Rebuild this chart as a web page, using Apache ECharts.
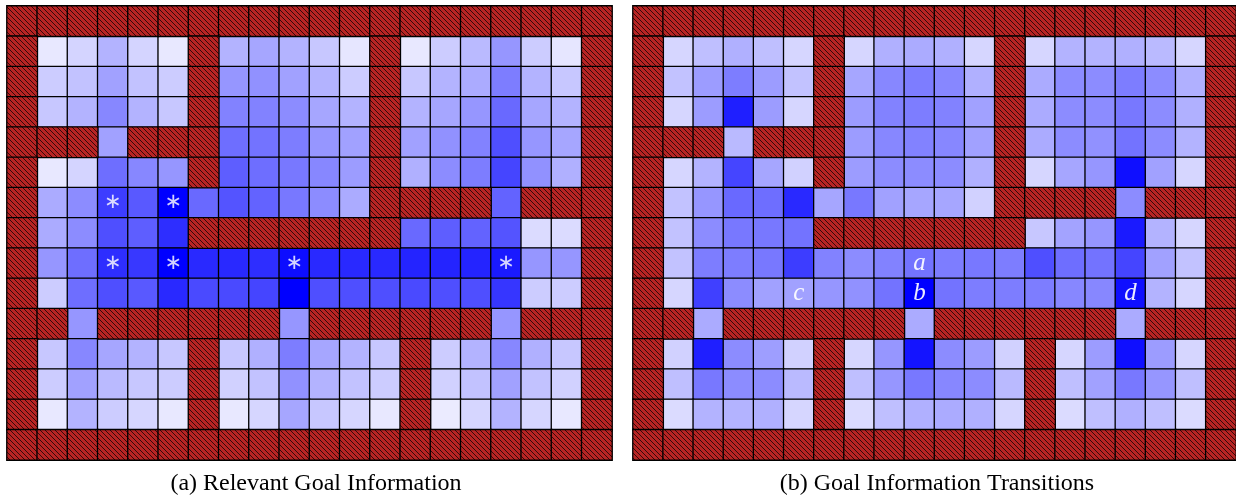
<!DOCTYPE html>
<html>
<head>
<meta charset="utf-8">
<script src="https://cdn.jsdelivr.net/npm/echarts@6/dist/echarts.min.js"></script>
<style>
  html, body { margin: 0; padding: 0; background: #ffffff; }
  #chart { width: 1236px; height: 498px; }
</style>
</head>
<body>
<div id="chart"></div>
<script>
// Grid-world maze: W marks a wall cell, numbers are cell intensities (0..1).
const W = null;

const columnLabels = ['0','1','2','3','4','5','6','7','8','9','10','11','12','13','14','15','16','17','18','19'];
const rowLabels = ['0','1','2','3','4','5','6','7','8','9','10','11','12','13','14'];

// (a) Relevant goal information
const relevantGoalInfo = [
  [W,W,W,W,W,W,W,W,W,W,W,W,W,W,W,W,W,W,W,W],
  [W,.09,.17,.30,.17,.09,W,.30,.35,.30,.22,.10,W,.09,.20,.27,.41,.20,.10,W],
  [W,.20,.24,.37,.24,.20,W,.41,.43,.37,.30,.20,W,.22,.30,.33,.51,.30,.22,W],
  [W,.22,.30,.47,.30,.22,W,.49,.49,.45,.35,.30,W,.30,.35,.41,.59,.35,.30,W],
  [W,W,W,.37,W,W,W,.57,.55,.51,.41,.37,W,.37,.43,.49,.69,.41,.35,W],
  [W,.09,.17,.57,.47,.41,W,.63,.57,.53,.47,.39,W,.31,.45,.51,.73,.43,.31,W],
  [W,.33,.45,.76,.65,1.0,.59,.67,.61,.53,.45,.33,W,W,W,W,.61,W,W,W],
  [W,.33,.45,.69,.63,.82,W,W,W,W,W,W,W,.59,.63,.61,.67,.14,.14,W],
  [W,.41,.57,.82,.78,1.0,.84,.84,.82,.95,.84,.84,.84,.86,.86,.86,.90,.41,.41,W],
  [W,.20,.57,.69,.65,.84,.71,.71,.73,1.0,.69,.69,.69,.71,.69,.69,.79,.20,.20,W],
  [W,W,.41,W,W,W,W,W,W,.41,W,W,W,W,W,W,.41,W,W,W],
  [W,.22,.47,.35,.30,.22,W,.22,.31,.51,.35,.30,.22,W,.20,.30,.47,.31,.22,W],
  [W,.20,.37,.27,.22,.20,W,.18,.24,.43,.30,.24,.20,W,.18,.24,.37,.24,.18,W],
  [W,.09,.30,.20,.16,.09,W,.09,.16,.35,.22,.16,.09,W,.08,.16,.30,.16,.09,W],
  [W,W,W,W,W,W,W,W,W,W,W,W,W,W,W,W,W,W,W,W]
];

// (b) Goal information transitions
const goalTransitions = [
  [W,W,W,W,W,W,W,W,W,W,W,W,W,W,W,W,W,W,W,W],
  [W,.16,.25,.31,.25,.16,W,.16,.31,.33,.31,.16,W,.16,.30,.30,.31,.27,.16,W],
  [W,.24,.39,.51,.39,.24,W,.35,.47,.51,.47,.31,W,.33,.45,.45,.51,.45,.31,W],
  [W,.16,.39,.88,.39,.16,W,.39,.49,.51,.49,.37,W,.33,.45,.45,.53,.45,.31,W],
  [W,W,W,.27,W,W,W,.39,.47,.49,.47,.37,W,.33,.45,.43,.55,.45,.30,W],
  [W,.16,.30,.73,.35,.18,W,.39,.45,.45,.45,.31,W,.16,.35,.41,.94,.37,.16,W],
  [W,.24,.41,.59,.57,.84,.35,.53,.37,.35,.35,.18,W,W,W,W,.45,W,W,W],
  [W,.24,.45,.53,.53,.55,W,W,W,W,W,W,W,.22,.36,.41,.90,.30,.16,W],
  [W,.24,.51,.51,.53,.76,.49,.45,.49,.55,.51,.53,.51,.69,.57,.55,.73,.37,.24,W],
  [W,.16,.75,.45,.37,.37,.41,.43,.55,1.0,.55,.51,.51,.51,.47,.47,.94,.30,.16,W],
  [W,W,.33,W,W,W,W,W,W,.33,W,W,W,W,W,W,.33,W,W,W],
  [W,.18,.88,.45,.38,.18,W,.16,.41,.92,.45,.39,.18,W,.16,.39,.94,.39,.16,W],
  [W,.25,.53,.45,.45,.27,W,.25,.41,.53,.47,.45,.27,W,.25,.37,.53,.41,.25,W],
  [W,.14,.30,.30,.31,.16,W,.14,.25,.31,.33,.31,.16,W,.14,.25,.31,.25,.14,W],
  [W,W,W,W,W,W,W,W,W,W,W,W,W,W,W,W,W,W,W,W]
];

// Marked cells: [column, row]
const goalMarkers = [[3, 6], [5, 6], [3, 8], [5, 8], [9, 8], [16, 8]];
// Labelled cells: [column, row, name]
const transitionLabels = [[9, 8, 'a'], [9, 9, 'b'], [5, 9, 'c'], [16, 9, 'd']];

const captions = ['(a) Relevant Goal Information', '(b) Goal Information Transitions'];

// Red cell with thin black "\" hatching for walls
function hatchCanvas() {
  const s = 5;
  const c = document.createElement('canvas');
  c.width = s; c.height = s;
  const g = c.getContext('2d');
  g.fillStyle = '#b82424';
  g.fillRect(0, 0, s, s);
  g.strokeStyle = 'rgba(0,0,0,0.9)';
  g.lineWidth = 0.8;
  g.beginPath();
  g.moveTo(-1, -1); g.lineTo(s + 1, s + 1);
  g.moveTo(-1, s - 1); g.lineTo(1, s + 1);
  g.moveTo(s - 1, -1); g.lineTo(s + 1, 1);
  g.stroke();
  return c;
}
const wallFill = { image: hatchCanvas(), repeat: 'repeat' };

const starLabel = {
  show: true, formatter: '\u2217', color: 'rgba(255,255,255,0.82)',
  fontFamily: 'DejaVu Sans', fontSize: 21
};
const letterLabel = (t) => ({
  show: true, formatter: t, color: 'rgba(255,255,255,0.92)',
  fontFamily: 'Liberation Serif', fontStyle: 'italic', fontSize: 25
});

function openCells(matrix, marks) {
  const out = [];
  matrix.forEach((row, r) => row.forEach((v, c) => {
    if (v === null) return;
    const item = { value: [c, r, v] };
    const m = marks.find(p => p[0] === c && p[1] === r);
    if (m) item.label = m.length > 2 ? letterLabel(m[2]) : starLabel;
    out.push(item);
  }));
  return out;
}
function wallCells(matrix) {
  const out = [];
  matrix.forEach((row, r) => row.forEach((v, c) => {
    if (v === null) out.push([c, r, 1]);
  }));
  return out;
}

const grids = [
  { left: 7, top: 6, width: 605, height: 454 },
  { left: 633, top: 6, width: 603, height: 454 }
];

const cellStyle = { borderColor: '#000000', borderWidth: 1.3 };

const option = {
  animation: false,
  backgroundColor: '#ffffff',
  grid: grids,
  xAxis: grids.map((g, i) => ({
    type: 'category', gridIndex: i, data: columnLabels, show: false
  })),
  yAxis: grids.map((g, i) => ({
    type: 'category', gridIndex: i, data: rowLabels, inverse: true, show: false
  })),
  visualMap: {
    type: 'continuous', show: false, min: 0, max: 1, dimension: 2,
    seriesIndex: [0, 2],
    inRange: { color: ['#ffffff', '#0000ff'] }
  },
  series: [
    {
      type: 'heatmap', xAxisIndex: 0, yAxisIndex: 0,
      data: openCells(relevantGoalInfo, goalMarkers),
      itemStyle: cellStyle, emphasis: { disabled: true }
    },
    {
      type: 'heatmap', xAxisIndex: 0, yAxisIndex: 0,
      data: wallCells(relevantGoalInfo),
      itemStyle: Object.assign({ color: wallFill }, cellStyle), emphasis: { disabled: true }
    },
    {
      type: 'heatmap', xAxisIndex: 1, yAxisIndex: 1,
      data: openCells(goalTransitions, transitionLabels),
      itemStyle: cellStyle, emphasis: { disabled: true }
    },
    {
      type: 'heatmap', xAxisIndex: 1, yAxisIndex: 1,
      data: wallCells(goalTransitions),
      itemStyle: Object.assign({ color: wallFill }, cellStyle), emphasis: { disabled: true }
    }
  ],
  graphic: captions.map((t, i) => ({
    type: 'text',
    x: i === 0 ? 316 : 937,
    y: 484,
    style: {
      text: t, fill: '#000000',
      font: '24px "Liberation Serif"',
      align: 'center', verticalAlign: 'middle'
    }
  }))
};

const chart = echarts.init(document.getElementById('chart'), null, { renderer: 'canvas' });
chart.setOption(option);
</script>
</body>
</html>
